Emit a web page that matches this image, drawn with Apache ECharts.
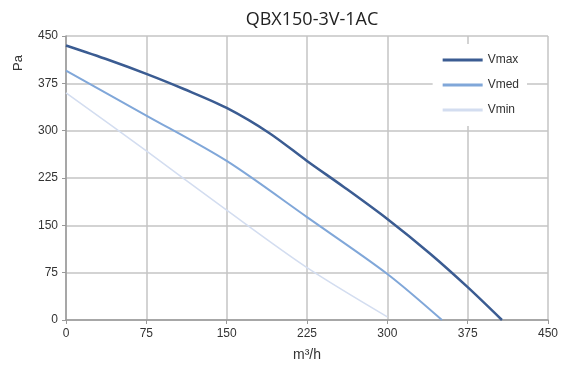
<!DOCTYPE html>
<html>
<head>
<meta charset="utf-8">
<script src="https://cdn.jsdelivr.net/npm/echarts@6/dist/echarts.min.js"></script>
<style>
  html, body { margin: 0; padding: 0; background: #fff; }
  #chart { width: 563px; height: 367px; }
</style>
</head>
<body>
<div id="chart"></div>
<script>
// flow (m³/h), pressure (Pa) pairs
const vmax = [[0, 435], [40, 412], [75, 390], [110, 366], [150, 336], [190, 296], [225, 252], [260, 210], [300, 160], [340, 105], [375, 52], [407, 0]];
const vmed = [[0, 395], [75, 324], [150, 252], [225, 163], [300, 73], [351, 0]];
const vmin = [[0, 360], [75, 268], [150, 174], [225, 83], [300, 5]];

const names = ["Vmax", "Vmed", "Vmin"];
const colors = ["#3b5c92", "#80a7d9", "#d3ddf0"];
const widths = [2.5, 2, 1.5];

const chart = echarts.init(document.getElementById("chart"));
const font = "Liberation Sans, Arial, sans-serif";
const axisText = { color: "#333", fontFamily: font, fontSize: 12 };

chart.setOption({
  animation: false,
  backgroundColor: "#fff",
  title: {
    text: "QBX150-3V-1AC",
    left: 307,
    textAlign: "center",
    top: 6,
    textStyle: { fontFamily: "Open Sans, sans-serif", fontSize: 18, fontWeight: "normal", color: "#222" },
  },
  graphic: [
    {
      type: "text",
      x: 18,
      y: 63,
      rotation: Math.PI / 2,
      style: { text: "Pa", fill: "#333", font: "13px " + font, align: "center", verticalAlign: "middle" },
    },
  ],
  legend: {
    orient: "vertical",
    right: 36,
    top: 44,
    padding: [10, 8, 10, 10],
    backgroundColor: "#fff",
    itemWidth: 40,
    itemHeight: 3,
    itemGap: 13,
    icon: "rect",
    textStyle: { color: "#333", fontFamily: font, fontSize: 12 },
    data: names,
  },
  grid: { left: 66, right: 15, top: 36, bottom: 42 },
  xAxis: {
    type: "value",
    min: 0,
    max: 450,
    interval: 75,
    name: "m³/h",
    nameLocation: "middle",
    nameGap: 28,
    nameTextStyle: { color: "#333", fontFamily: font, fontSize: 14 },
    axisLabel: axisText,
    axisLine: { lineStyle: { color: "#999", width: 1.5 } },
    axisTick: { show: true, length: 4, lineStyle: { color: "#999" } },
    splitLine: { show: true, lineStyle: { color: "#c4c4c4", width: 1.5 } },
  },
  yAxis: {
    type: "value",
    min: 0,
    max: 450,
    interval: 75,
    axisLabel: axisText,
    axisLine: { show: true, lineStyle: { color: "#999", width: 1.5 } },
    axisTick: { show: true, length: 4, lineStyle: { color: "#999" } },
    splitLine: { show: true, lineStyle: { color: "#c4c4c4", width: 1.5 } },
  },
  series: [vmax, vmed, vmin].map((d, i) => ({
    name: names[i],
    type: "line",
    data: d,
    smooth: 0.3,
    showSymbol: false,
    color: colors[i],
    lineStyle: { color: colors[i], width: widths[i] },
    z: 10 - i,
  })),
});
</script>
</body>
</html>
